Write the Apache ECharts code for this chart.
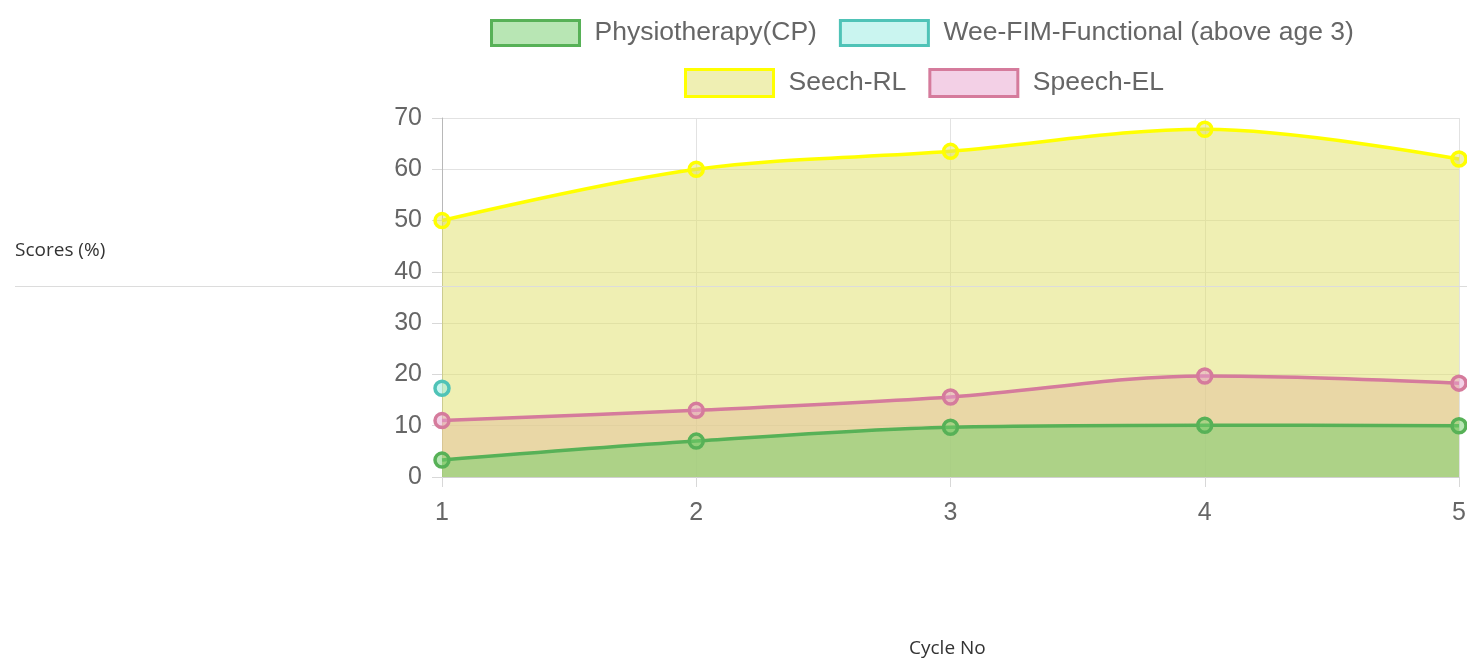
<!DOCTYPE html>
<html>
<head>
<meta charset="utf-8">
<script src="https://cdn.jsdelivr.net/npm/echarts@6/dist/echarts.min.js"></script>
<style>
  html, body { margin: 0; padding: 0; background: #fff; }
  #chart { width: 1467px; height: 659px; }
</style>
</head>
<body>
<div id="chart"></div>
<script>
var cycles = ['1', '2', '3', '4', '5'];
var physio = [3.3, 7, 9.7, 10.1, 10];
var weeFim = [17.3, null, null, null, null];
var speechRL = [50, 60, 63.5, 67.8, 62];
var speechEL = [11, 13, 15.6, 19.7, 18.3];

var chart = echarts.init(document.getElementById('chart'));

var font = 'Liberation Sans, Arial, sans-serif';

function legendItem(name, fill, border) {
  return { name: name, itemStyle: { color: fill, borderColor: border, borderWidth: 3 } };
}

// fills are drawn first, under every line (like chart.js filler)
function areaSeries(name, data, fill, z) {
  return {
    name: name,
    type: 'line',
    data: data,
    z: z,
    smooth: 0.35,
    symbol: 'none',
    lineStyle: { width: 0 },
    itemStyle: { color: fill },
    areaStyle: { color: fill, origin: 'start', opacity: 1 },
    emphasis: { disabled: true },
    silent: true
  };
}

function lineSeries(name, data, line, fill, z) {
  return {
    name: name,
    type: 'line',
    data: data,
    z: z,
    smooth: 0.35,
    symbol: 'circle',
    symbolSize: 14,
    showAllSymbol: true,
    clip: false,
    lineStyle: { color: line, width: 3.5 },
    itemStyle: { color: fill, borderColor: line, borderWidth: 3.5 },
    emphasis: { disabled: true }
  };
}

var option = {
  animation: false,
  textStyle: { fontFamily: font },
  legend: [
    {
      left: 490, top: 19, padding: 0,
      icon: 'rect', itemWidth: 88, itemHeight: 25, itemGap: 22,
      textStyle: { color: '#666', fontSize: 26.5, fontFamily: font, padding: [0, 0, 0, 10] },
      data: [
        legendItem('Physiotherapy(CP)', 'rgba(113,205,105,0.5)', '#57b157'),
        legendItem('Wee-FIM-Functional (above age 3)', 'rgba(150,235,225,0.5)', '#4fc3b7')
      ]
    },
    {
      left: 684, top: 68, padding: 0,
      icon: 'rect', itemWidth: 88, itemHeight: 27, itemGap: 22,
      textStyle: { color: '#666', fontSize: 26.5, fontFamily: font, padding: [0, 0, 0, 10] },
      data: [
        legendItem('Seech-RL', 'rgba(223,223,103,0.5)', '#ffff00'),
        legendItem('Speech-EL', 'rgba(231,161,205,0.5)', '#d57b9c')
      ]
    }
  ],
  grid: { left: 442, right: 8, top: 118, bottom: 182, outerBoundsMode: 'none' },
  xAxis: {
    type: 'category',
    boundaryGap: false,
    data: cycles,
    axisLine: { lineStyle: { color: '#d0d0d0' } },
    axisTick: { show: true, length: 10, lineStyle: { color: '#d8d8d8' } },
    axisLabel: { color: '#666', fontSize: 25, margin: 24, fontFamily: font },
    splitLine: { show: true, lineStyle: { color: '#e2e2e2' } }
  },
  yAxis: {
    type: 'value',
    min: 0,
    max: 70,
    interval: 10,
    axisLine: { show: true, lineStyle: { color: '#b8b8b8' } },
    axisTick: { show: true, length: 10, lineStyle: { color: '#d8d8d8' } },
    axisLabel: { color: '#666', fontSize: 25, margin: 20, fontFamily: font },
    splitLine: { show: true, lineStyle: { color: '#e2e2e2' } }
  },
  series: [
    areaSeries('Speech-EL', speechEL, 'rgba(231,161,205,0.5)', 1),
    areaSeries('Seech-RL', speechRL, 'rgba(223,223,103,0.5)', 1),
    areaSeries('Physiotherapy(CP)', physio, 'rgba(113,205,105,0.5)', 1),
    lineSeries('Speech-EL', speechEL, '#d57b9c', 'rgba(231,161,205,0.5)', 5),
    lineSeries('Seech-RL', speechRL, '#ffff00', 'rgba(223,223,103,0.5)', 6),
    lineSeries('Wee-FIM-Functional (above age 3)', weeFim, '#4fc3b7', 'rgba(150,235,225,0.5)', 7),
    lineSeries('Physiotherapy(CP)', physio, '#57b157', 'rgba(113,205,105,0.5)', 8)
  ],
  graphic: [
    {
      type: 'text', left: 15, top: 241, z: 20,
      style: { text: 'Scores (%)', fontSize: 19, fill: '#333', fontFamily: 'Open Sans, Noto Sans, sans-serif' }
    },
    {
      type: 'line', z: 20,
      shape: { x1: 15, y1: 286.5, x2: 1467, y2: 286.5 },
      style: { stroke: '#dcdcdc', lineWidth: 1 }
    },
    {
      type: 'text', left: 909, top: 639, z: 20,
      style: { text: 'Cycle No', fontSize: 19, fill: '#333', fontFamily: 'Open Sans, Noto Sans, sans-serif' }
    }
  ]
};

chart.setOption(option);
</script>
</body>
</html>
